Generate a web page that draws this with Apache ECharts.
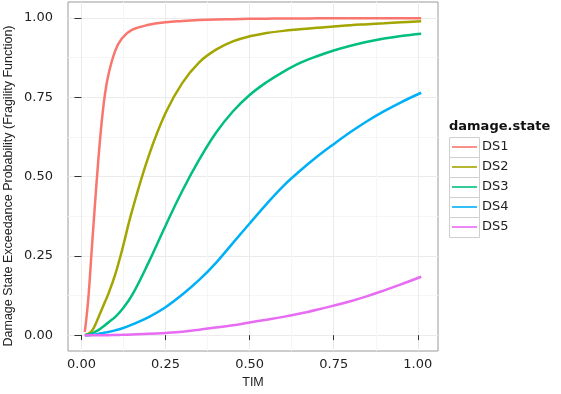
<!DOCTYPE html>
<html>
<head>
<meta charset="utf-8">
<script src="https://cdn.jsdelivr.net/npm/echarts@6/dist/echarts.min.js"></script>
<style>html,body{margin:0;padding:0;background:#fff}#c{width:561px;height:394px}</style>
</head>
<body>
<div id="c"></div>
<script>
// ---- data ----
const tim = [0.01,0.02,0.03,0.04,0.05,0.06,0.07,0.08,0.10,0.12,0.15,0.20,0.25,0.30,0.35,0.40,0.45,0.50,0.55,0.60,0.65,0.70,0.75,0.80,0.85,0.90,0.95,1.01];
const ds1 = [0.01,0.11,0.26,0.41,0.55,0.67,0.76,0.82,0.895,0.935,0.962,0.978,0.986,0.990,0.993,0.995,0.996,0.997,0.9975,0.998,0.998,0.9985,0.9985,0.999,0.999,0.999,0.999,0.999];
const ds2 = [0.0,0.004,0.012,0.03,0.055,0.08,0.105,0.13,0.19,0.265,0.39,0.565,0.70,0.795,0.86,0.90,0.926,0.942,0.952,0.959,0.964,0.969,0.973,0.977,0.980,0.983,0.986,0.989];
const ds3 = [0.0,0.002,0.005,0.01,0.016,0.023,0.031,0.04,0.057,0.08,0.125,0.23,0.345,0.455,0.553,0.638,0.705,0.757,0.797,0.83,0.858,0.879,0.897,0.912,0.925,0.935,0.943,0.95];
const ds4 = [0.0,0.0,0.001,0.002,0.004,0.006,0.008,0.01,0.015,0.021,0.033,0.057,0.088,0.128,0.174,0.228,0.29,0.352,0.413,0.47,0.518,0.562,0.602,0.64,0.675,0.706,0.734,0.764];
const ds5 = [0.0,0.0,0.0,0.0,0.0,0.0,0.0,0.0,0.0005,0.001,0.002,0.004,0.007,0.011,0.017,0.024,0.031,0.040,0.0485,0.0575,0.068,0.080,0.093,0.107,0.123,0.141,0.160,0.184];
const seriesNames = ['DS1','DS2','DS3','DS4','DS5'];
const seriesValues = [ds1, ds2, ds3, ds4, ds5];
const colors = ['#F8766D','#A3A500','#00BF7D','#00B0F6','#E76BF3'];
const majorTicks = [0, 0.25, 0.5, 0.75, 1];
const minorTicks = [0.125, 0.375, 0.625, 0.875];
const xTitle = 'TIM';
const yTitle = 'Damage State Exceedance Probability (Fragility Function)';
const legendTitle = 'damage.state';

const chart = echarts.init(document.getElementById('c'), null, {renderer: 'canvas'});
const font = 'DejaVu Sans';
const fmt = v => v.toFixed(2);

const keyBoxes = seriesNames.map((n, i) => ({
  type: 'rect', left: 449, top: 137 + i * 20, z: 0,
  shape: {width: 30, height: 20},
  style: {fill: '#fff', stroke: '#cfcfcf', lineWidth: 1}
}));

chart.setOption({
  animation: false,
  backgroundColor: '#fff',
  color: colors,
  title: {text: legendTitle, left: 449, top: 120, padding: 0,
    textStyle: {fontFamily: font, fontSize: 13, fontWeight: 'bold', color: '#111'}},
  legend: {
    orient: 'vertical', left: 452, top: 137, padding: 0,
    itemWidth: 25, itemHeight: 20, itemGap: 0, itemTextGap: 8,
    icon: 'path://M0,0 L25,0 L25,1.6 L0,1.6 Z',
    data: seriesNames,
    textStyle: {fontFamily: font, fontSize: 13, color: '#222', lineHeight: 20, height: 20}
  },
  graphic: keyBoxes.concat([{
    type: 'text', x: 9, y: 186, rotation: Math.PI / 2, z: 5,
    style: {text: yTitle, fontFamily: 'Liberation Sans', fontSize: 12.5, fill: '#222',
      align: 'center', verticalAlign: 'middle'}
  }]),
  grid: {left: 68, right: 123, top: 2, bottom: 39, show: true,
    borderColor: '#9a9a9a', borderWidth: 1, backgroundColor: '#fff'},
  xAxis: [{
    type: 'value', min: -0.04, max: 1.06,
    name: xTitle, nameLocation: 'middle', nameGap: 25,
    nameTextStyle: {fontFamily: 'Liberation Sans', fontSize: 12.5, color: '#222'},
    axisLine: {show: false},
    axisTick: {show: true, length: 5, customValues: majorTicks, lineStyle: {color: '#333'}},
    axisLabel: {customValues: majorTicks, formatter: fmt, margin: 7,
      fontFamily: font, fontSize: 13, color: '#222'},
    splitLine: {show: true, lineStyle: {color: '#ebebeb', width: 1}}
  }, {
    type: 'value', min: -0.04, max: 1.06, position: 'bottom',
    axisLine: {show: false}, axisLabel: {show: false},
    axisTick: {show: false, customValues: minorTicks},
    splitLine: {show: true, lineStyle: {color: '#f6f6f6', width: 1}}
  }],
  yAxis: [{
    type: 'value', min: -0.05, max: 1.05,
    axisLine: {show: false},
    axisTick: {show: true, length: 7, customValues: majorTicks, lineStyle: {color: '#333'}},
    axisLabel: {customValues: majorTicks, formatter: fmt, margin: 15,
      fontFamily: font, fontSize: 13, color: '#222'},
    splitLine: {show: true, lineStyle: {color: '#ebebeb', width: 1}}
  }, {
    type: 'value', min: -0.05, max: 1.05, position: 'left',
    axisLine: {show: false}, axisLabel: {show: false},
    axisTick: {show: false, customValues: minorTicks},
    splitLine: {show: true, lineStyle: {color: '#f6f6f6', width: 1}}
  }],
  series: seriesNames.map((n, i) => ({
    name: n, type: 'line', xAxisIndex: 0, yAxisIndex: 0,
    data: tim.map((x, j) => [x, seriesValues[i][j]]),
    showSymbol: false, symbol: 'none',
    smooth: 0.4,
    lineStyle: {width: 2.5, color: colors[i]},
    itemStyle: {color: colors[i]}
  }))
});
</script>
</body>
</html>
